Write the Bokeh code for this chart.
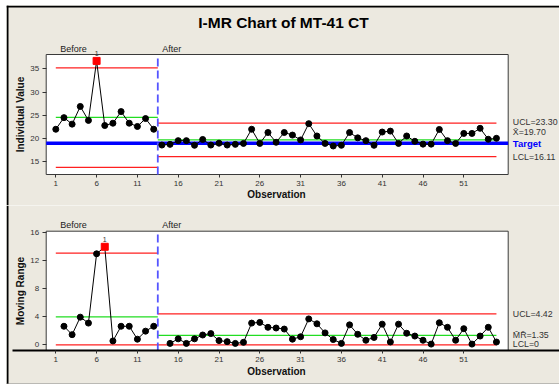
import math
import numpy as np
from bokeh.plotting import figure
from bokeh.models import Range1d, FixedTicker, Span
from bokeh.layouts import column
from bokeh.embed import file_html
from bokeh.resources import INLINE
from bokeh.core.properties import value

# ---------------- data ----------------
observation = list(range(1, 56))
stage_names = ["Before", "After"]
stage_first_obs = [1, 14]
stage_split = 13.5

individual = [22.0, 24.5, 23.1, 26.9, 23.9, 36.7, 22.8, 23.3, 25.8, 23.3, 22.6, 24.3, 22.0,
              18.6, 18.75, 19.55, 19.55, 18.55, 19.8, 18.6, 19.0, 18.6, 18.75, 18.95, 22.0,
              18.95, 21.3, 19.2, 21.3, 20.75, 19.7, 23.2, 20.55, 18.95, 18.4, 18.55, 21.3,
              20.15, 19.55, 18.55, 21.4, 21.6, 18.95, 20.55, 19.4, 18.8, 18.8, 21.95, 19.55,
              18.95, 21.1, 21.1, 22.2, 19.85, 20.05]

moving_range = [float("nan"), 2.65, 1.45, 3.95, 3.1, 13.0, 14.0, 0.55, 2.65, 2.65, 0.8, 1.95, 2.65,
                float("nan"), 0.2, 0.85, 0.2, 0.85, 1.4, 1.6, 0.6, 0.45, 0.2, 0.35, 3.1, 3.2,
                2.5, 2.4, 2.25, 0.8, 1.15, 3.7, 3.0, 1.7, 0.75, 0.2, 2.85, 1.5, 0.65, 1.05,
                2.95, 0.4, 2.95, 1.65, 1.25, 0.65, 0.1, 3.15, 2.5, 0.65, 2.3, 0.1, 1.25, 2.5, 0.4]

# control limits per stage (Before, After)
i_center = [24.55, 19.70]
i_ucl = [35.2, 23.30]
i_lcl = [13.8, 16.11]
mr_center = [4.0, 1.35]
mr_ucl = [13.1, 4.42]
mr_lcl = [0.0, 0.0]
target = 19.0

i_ticks = [15, 20, 25, 30, 35]
mr_ticks = [0, 4, 8, 12, 16]
x_ticks = [1, 6, 11, 16, 21, 26, 31, 36, 41, 46, 51]

right_labels_i = ["UCL=23.30", "X\u0304=19.70", "Target", "LCL=16.11"]
right_labels_mr = ["UCL=4.42", "M\u0304R\u0304=1.35", "LCL=0"]

# ---------------- layout helpers (pixel anchors) ----------------
BG = "#ECE9E0"
FONT = "Liberation Sans"
W = 553
H1, H2 = 200, 179
OBS1_PX, PX_PER_OBS = 55.3, 8.16
I35_PX, PX_PER_I = 68.3, 4.65
MR0_PX, PX_PER_MR = 344.3, 7.0


def xd(px):
    return 1 + (px - OBS1_PX) / PX_PER_OBS


def yi(py):
    return 35 - (py - I35_PX) / PX_PER_I


def ym(py):
    return (MR0_PX - py) / PX_PER_MR


BOX_L, BOX_R = xd(45.7), xd(507.7)
first = [0, 13]
last = [13, 55]
seg_start = [1, stage_split]
seg_end = [stage_split, 55]


def base_fig(height, y_lo, y_hi):
    p = figure(width=W, height=height, x_range=Range1d(xd(6), xd(559)),
               y_range=Range1d(y_lo, y_hi), output_backend="svg",
               toolbar_location=None, min_border=0,
               background_fill_color=BG, border_fill_color=BG,
               outline_line_color=None)
    p.title.visible = False
    p.grid.visible = False
    for ax in (p.xaxis[0], p.yaxis[0]):
        ax.axis_line_color = None
        ax.major_tick_in = 0
        ax.minor_tick_line_color = None
        ax.major_tick_line_color = "#333333"
        ax.major_label_text_font = FONT
        ax.major_label_text_font_size = "8px"
        ax.major_label_text_color = "#333333"
    p.xaxis.ticker = FixedTicker(ticks=x_ticks)
    p.xaxis.major_tick_out = 3
    p.xaxis.major_label_standoff = 3
    p.yaxis.major_tick_out = 4
    p.yaxis.major_label_standoff = 3
    p.yaxis.fixed_location = BOX_L
    # outer frame of graph window
    p.add_layout(Span(location=xd(7), dimension="height", line_color="black", line_width=2))
    return p


def txt(p, x, y, t, size, bold=False, color="#333333", align="left", baseline="middle",
        angle=0.0, x_off=0, y_off=0):
    p.text(x=[x], y=[y], text=[t], text_font=value(FONT), text_font_size=value(size),
           text_font_style="bold" if bold else "normal", text_color=color,
           text_align=align, text_baseline=baseline, angle=angle,
           x_offset=x_off, y_offset=y_off)


def draw_chart(p, centers, ucls, lcls, box_bot, box_top):
    p.quad(left=[BOX_L], right=[BOX_R], bottom=[box_bot], top=[box_top],
           fill_color="white", line_color="#3a3a3a", line_width=1)
    for s in range(2):
        p.segment(x0=[seg_start[s]] * 3, x1=[seg_end[s]] * 3,
                  y0=[ucls[s], lcls[s], centers[s]], y1=[ucls[s], lcls[s], centers[s]],
                  line_color=["#FF2020", "#FF2020", "#22DD22"], line_width=1.3)


# ---------------- I chart ----------------
p1 = base_fig(H1, yi(205), yi(5))
p1.yaxis.ticker = FixedTicker(ticks=i_ticks)
p1.xaxis.fixed_location = yi(174)
p1.add_layout(Span(location=yi(6), dimension="width", line_color="black", line_width=2))

draw_chart(p1, i_center, i_ucl, i_lcl, yi(174), yi(54))
p1.segment(x0=[BOX_L], x1=[BOX_R], y0=[target], y1=[target], line_color="#0000FF", line_width=3.6)
p1.segment(x0=[stage_split], x1=[stage_split], y0=[yi(174)], y1=[yi(54)],
           line_color="#5555FF", line_width=1.8, line_dash="8 4")

for s in range(2):
    xs = observation[first[s]:last[s]]
    ys = individual[first[s]:last[s]]
    p1.line(xs, ys, line_color="black", line_width=1)
flag_i = [i for i in range(55) if individual[i] > i_ucl[0 if i < 13 else 1]]
norm_i = [i for i in range(55) if i not in flag_i]
p1.scatter([observation[i] for i in norm_i], [individual[i] for i in norm_i],
           size=6, color="black")
p1.scatter([observation[i] for i in flag_i], [individual[i] for i in flag_i],
           marker="square", size=7, color="#FF0000")
for i in flag_i:
    txt(p1, observation[i], individual[i], "1", "7px", align="center", y_off=-7)

txt(p1, xd(283), yi(22.3), "I-MR Chart of MT-41 CT", "15.5px", bold=True, color="black",
    align="center", baseline="middle")
for s in range(2):
    txt(p1, stage_first_obs[s] if s == 0 else stage_split, yi(48), stage_names[s], "9px",
        color="#222222", x_off=4.5)
txt(p1, xd(20), yi(114), "Individual Value", "10px", bold=True, color="#111111",
    align="center", angle=math.pi / 2)
txt(p1, xd(276), yi(194.3), "Observation", "10px", bold=True, color="#111111", align="center")
lab_x = xd(512.3)
txt(p1, lab_x, i_ucl[1], right_labels_i[0], "8.8px", y_off=-1)
txt(p1, lab_x, i_center[1], right_labels_i[1], "8.8px", y_off=-8)
txt(p1, lab_x, target, right_labels_i[2], "9.5px", bold=True, color="#0000FF")
txt(p1, lab_x, i_lcl[1], right_labels_i[3], "8.8px")

# ---------------- MR chart ----------------
p2 = base_fig(H2, ym(384), ym(205))
p2.yaxis.ticker = FixedTicker(ticks=mr_ticks)
p2.xaxis.fixed_location = ym(350)
p2.add_layout(Span(location=ym(383.5), dimension="width", line_color="#888888", line_width=1))

draw_chart(p2, mr_center, mr_ucl, mr_lcl, ym(350), ym(230.7))
p2.segment(x0=[stage_split], x1=[stage_split], y0=[ym(350)], y1=[ym(230.7)],
           line_color="#5555FF", line_width=1.8, line_dash="8 4")
p2.segment(x0=[xd(12)], x1=[xd(559)], y0=[ym(350)], y1=[ym(350)], line_color="black", line_width=2.2)

p2.line(observation, moving_range, line_color="black", line_width=1)
flag_m = [i for i in range(55) if not np.isnan(moving_range[i]) and moving_range[i] > mr_ucl[0 if i < 13 else 1]]
norm_m = [i for i in range(55) if i not in flag_m and not np.isnan(moving_range[i])]
p2.scatter([observation[i] for i in norm_m], [moving_range[i] for i in norm_m],
           size=6, color="black")
p2.scatter([observation[i] for i in flag_m], [moving_range[i] for i in flag_m],
           marker="square", size=7, color="#FF0000")
for i in flag_m:
    txt(p2, observation[i], moving_range[i], "1", "7px", align="center", y_off=-7)

for s in range(2):
    txt(p2, stage_first_obs[s] if s == 0 else stage_split, ym(224.7), stage_names[s], "9px",
        color="#222222", x_off=4.5)
txt(p2, xd(20), ym(290.5), "Moving Range", "10px", bold=True, color="#111111",
    align="center", angle=math.pi / 2)
txt(p2, xd(276), ym(371), "Observation", "10px", bold=True, color="#111111", align="center")
txt(p2, lab_x, mr_ucl[1], right_labels_mr[0], "8.8px")
txt(p2, lab_x, mr_center[1], right_labels_mr[1], "8.8px")
txt(p2, lab_x, mr_lcl[1], right_labels_mr[2], "8.8px", y_off=-1)

layout = column(p1, p2, styles={"margin-left": "6px", "margin-top": "5px"})
open("out.html", "w").write(file_html(layout, INLINE))
